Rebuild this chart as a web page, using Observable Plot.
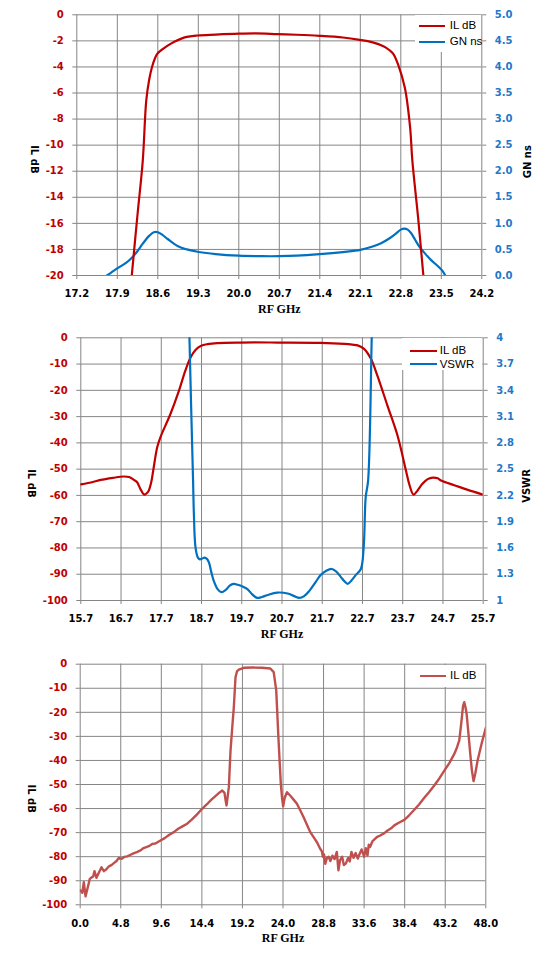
<!DOCTYPE html>
<html><head><meta charset="utf-8">
<script src="https://cdn.jsdelivr.net/npm/d3@7"></script>
<script src="https://cdn.jsdelivr.net/npm/@observablehq/plot@0.6"></script>
<style>
body{margin:0;background:#fff;}
#wrap{position:relative;width:554px;height:967px;background:#fff;overflow:hidden;}
#wrap svg{position:absolute;left:0;}
.leg{position:absolute;background:#fff;}
.sw{position:absolute;height:2.4px;}
.lt{position:absolute;font-family:"Liberation Sans",Arial,sans-serif;font-size:11.5px;line-height:14px;color:#000;white-space:nowrap;}
</style></head>
<body><div id="wrap"></div>
<script>
// ---------- Panel 1 : IL dB and GN ns vs RF GHz ----------
const p1Ticks = [17.2,17.9,18.6,19.3,20.0,20.7,21.4,22.1,22.8,23.5,24.2];
const p1ILTicks = [-20,-18,-16,-14,-12,-10,-8,-6,-4,-2,0];
const p1GNTicks = [0,0.5,1.0,1.5,2.0,2.5,3.0,3.5,4.0,4.5,5.0];
const p1ILFreq = [18.10,18.15,18.25,18.34,18.40,18.45,18.50,18.55,18.59,18.65,18.70,18.82,19.04,19.29,19.6,20.0,20.3,20.66,21.0,21.39,21.8,22.09,22.3,22.5,22.6,22.67,22.76,22.87,22.96,23.0,23.10,23.19,23.24];
const p1IL = [-22.5,-20,-15.3,-11.2,-6.6,-5.0,-4.0,-3.35,-3.0,-2.75,-2.58,-2.23,-1.77,-1.59,-1.52,-1.45,-1.43,-1.48,-1.53,-1.61,-1.74,-1.92,-2.1,-2.41,-2.7,-3.0,-3.9,-5.6,-8.6,-11.2,-15.6,-20,-22.5];
const p1GNFreq = [17.72,17.80,17.92,18.05,18.16,18.25,18.34,18.45,18.53,18.60,18.68,18.77,18.95,19.10,19.31,19.6,20.0,20.4,20.7,21.0,21.4,21.8,22.1,22.3,22.46,22.6,22.71,22.80,22.86,22.92,22.98,23.05,23.13,23.22,23.32,23.40,23.47,23.52,23.57];
const p1GN = [0,0.06,0.15,0.24,0.35,0.47,0.61,0.76,0.83,0.83,0.78,0.70,0.56,0.50,0.45,0.41,0.38,0.37,0.37,0.38,0.41,0.45,0.49,0.55,0.62,0.71,0.80,0.88,0.90,0.88,0.81,0.68,0.54,0.42,0.30,0.22,0.15,0.09,0];

// ---------- Panel 2 : IL dB and VSWR vs RF GHz ----------
const p2Ticks = [15.7,16.7,17.7,18.7,19.7,20.7,21.7,22.7,23.7,24.7,25.7];
const p2ILTicks = [-100,-90,-80,-70,-60,-50,-40,-30,-20,-10,0];
const p2VSWRTicks = [1,1.3,1.6,1.9,2.2,2.5,2.8,3.1,3.4,3.7,4];
const p2ILFreq = [15.7,16.0,16.19,16.5,16.77,16.9,17.02,17.1,17.18,17.28,17.35,17.39,17.45,17.50,17.60,17.68,17.93,18.14,18.30,18.43,18.55,18.68,18.85,19.09,19.67,20.59,21.66,22.25,22.45,22.58,22.74,22.91,23.07,23.32,23.57,23.78,23.86,23.97,24.07,24.19,24.32,24.45,24.57,24.65,25.0,25.3,25.7];
const p2IL = [-55.8,-54.9,-54.1,-53.3,-52.8,-53.0,-54.1,-55.0,-57.5,-59.7,-59.0,-58.1,-55.0,-50.5,-41.6,-37.8,-28.9,-20.1,-12.4,-7.4,-4.6,-3.1,-2.4,-2.0,-1.8,-1.8,-1.9,-2.3,-2.6,-2.9,-4.2,-8.0,-14.4,-25.8,-37.2,-50.5,-55.6,-59.7,-58.1,-55.6,-53.8,-53.2,-53.5,-54.3,-56.2,-57.8,-59.7];
const p2VSWRFreq = [18.38,18.40,18.44,18.49,18.51,18.55,18.61,18.66,18.72,18.77,18.82,18.88,18.94,19.00,19.10,19.19,19.30,19.40,19.50,19.60,19.72,19.84,19.96,20.08,20.20,20.33,20.58,20.84,21.0,21.13,21.25,21.38,21.52,21.66,21.80,21.94,22.05,22.16,22.25,22.33,22.43,22.53,22.66,22.73,22.78,22.84,22.93,22.95];
const p2VSWR = [4.3,4.0,3.25,2.37,1.99,1.61,1.49,1.47,1.48,1.49,1.48,1.44,1.33,1.23,1.13,1.095,1.12,1.17,1.19,1.18,1.16,1.13,1.07,1.03,1.04,1.06,1.09,1.08,1.05,1.03,1.05,1.11,1.20,1.29,1.34,1.36,1.33,1.27,1.22,1.19,1.23,1.29,1.36,1.61,2.18,2.37,4.0,4.3];

// ---------- Panel 3 : wideband IL dB vs RF GHz ----------
const p3Ticks = [0.0,4.8,9.6,14.4,19.2,24.0,28.8,33.6,38.4,43.2,48.0];
const p3ILTicks = [-100,-90,-80,-70,-60,-50,-40,-30,-20,-10,0];
const p3Freq = [0.04,0.25,0.43,0.63,0.9,1.14,1.35,1.54,1.69,1.93,2.2,2.52,2.8,3.1,3.4,3.7,3.98,4.3,4.57,4.9,5.2,5.56,5.9,6.3,6.7,7.14,7.5,7.9,8.2,8.52,8.9,9.2,9.5,10.0,10.5,11.08,11.6,12.1,12.66,13.2,13.8,14.43,15.0,15.5,16.0,16.5,16.81,17.08,17.2,17.32,17.45,17.59,17.79,18.0,18.18,18.38,18.55,18.77,19.36,20.5,21.5,22.5,22.9,23.2,23.45,23.74,23.9,24.02,24.2,24.47,24.9,25.3,25.65,26.05,26.44,26.85,27.23,27.6,28.02,28.4,28.6,28.72,28.85,29.0,29.2,29.4,29.6,29.85,30.1,30.37,30.56,30.75,31.0,31.2,31.45,31.7,31.9,32.1,32.35,32.6,32.85,33.05,33.3,33.6,33.8,34.0,34.15,34.3,34.6,35.1,35.5,35.99,36.38,36.8,37.17,37.7,38.36,38.9,39.54,40.1,40.72,41.3,41.9,42.5,43.09,43.7,44.27,44.6,44.86,45.05,45.17,45.3,45.45,45.6,45.73,45.95,46.16,46.35,46.55,46.75,47.03,47.5,48.0];
const p3IL = [-94.1,-95.0,-90.6,-96.5,-92.7,-89.2,-88.6,-88.2,-86.0,-88.8,-86.7,-84.4,-86.0,-85.2,-84.0,-83.5,-82.7,-81.8,-80.5,-80.9,-80.1,-79.9,-79.3,-78.6,-78.1,-77.4,-76.4,-75.9,-75.5,-74.7,-74.5,-73.9,-73.3,-72.3,-71.0,-69.8,-68.4,-67.4,-66.3,-64.6,-62.5,-60.1,-58.2,-56.4,-54.8,-53.3,-52.5,-53.5,-56.5,-58.7,-55.0,-51.1,-35.9,-26.0,-17.9,-5.4,-3.0,-2.3,-1.5,-1.4,-1.5,-1.8,-3.3,-10.9,-30.0,-49.7,-56.0,-59.1,-55.5,-53.2,-54.8,-56.5,-58.0,-60.8,-63.6,-66.8,-69.8,-71.8,-74.0,-76.7,-77.8,-80.0,-79.0,-83.0,-80.5,-80.0,-81.8,-79.6,-81.0,-78.0,-85.7,-81.5,-80.0,-83.5,-82.8,-80.5,-82.0,-78.0,-80.5,-78.5,-80.8,-79.0,-77.0,-80.0,-76.5,-79.5,-75.0,-76.0,-73.5,-71.9,-71.2,-70.2,-69.1,-68.2,-67.0,-65.9,-64.7,-62.9,-60.5,-58.3,-55.5,-53.1,-50.4,-47.5,-44.2,-41.0,-37.3,-34.5,-31.7,-26.0,-22.0,-17.5,-15.8,-18.0,-20.6,-29.0,-37.3,-44.0,-48.6,-45.5,-40.0,-33.1,-26.4];

// ---------- styling ----------
const RED = "#c00000", BLUE = "#0070c0", BLUE_T = "#1f78c8", GRID = "#858585", RED3 = "#c0504d";
const baseStyle = {fontFamily: "'DejaVu Sans', Verdana, sans-serif", fontSize: "10px", fontWeight: "bold", background: "transparent", overflow: "visible"};
const fmt1 = d => d.toFixed(1);

function frame(xTicks, yTicks) {
  return [
    Plot.gridX(xTicks, {stroke: GRID, strokeOpacity: 1, strokeWidth: 1}),
    Plot.gridY(yTicks, {stroke: GRID, strokeOpacity: 1, strokeWidth: 1}),
    Plot.axisX(xTicks, {tickSize: 4, tickPadding: 10.6, stroke: GRID, fill: "#000", tickFormat: fmt1, label: null}),
    Plot.axisY(yTicks, {tickSize: 4, tickPadding: 9, stroke: GRID, fill: RED, tickFormat: d => String(d), label: null}),
    Plot.text(["RF GHz"], {frameAnchor: "bottom", dy: 37.5, fontFamily: "'Liberation Serif', 'Times New Roman', serif", fontSize: 12, fontWeight: "bold", fill: "#000"})
  ];
}

const wrap = document.getElementById("wrap");

// Panel 1
const toIL1 = g => -20 + g * 4;
const plot1 = Plot.plot({
  width: 554, height: 320,
  marginLeft: 76.3, marginRight: 72.7, marginTop: 14.3, marginBottom: 45,
  style: baseStyle,
  x: {domain: [17.2, 24.2]},
  y: {domain: [-20, 0]},
  marks: [
    ...frame(p1Ticks, p1ILTicks),
    Plot.axisY(p1GNTicks.map(toIL1), {anchor: "right", tickSize: 4, tickPadding: 9, stroke: GRID, fill: BLUE_T, tickFormat: v => ((v + 20) / 4).toFixed(1), label: null}),
    Plot.text(["IL dB"], {frameAnchor: "left", rotate: 90, dx: -43, fill: "#000"}),
    Plot.text(["GN ns"], {frameAnchor: "right", rotate: -90, dx: 45.7, fill: "#000"}),
    Plot.line(p1GNFreq, {x: p1GNFreq, y: p1GN.map(toIL1), stroke: BLUE, strokeWidth: 2.2, curve: "catmull-rom", clip: true}),
    Plot.line(p1ILFreq, {x: p1ILFreq, y: p1IL, stroke: RED, strokeWidth: 2.2, curve: "catmull-rom", clip: true})
  ]
});
plot1.style.top = "0px";
wrap.appendChild(plot1);

// Panel 2
const toIL2 = v => (v - 1) / 3 * 100 - 100;
const plot2 = Plot.plot({
  width: 554, height: 330,
  marginLeft: 80.3, marginRight: 71.3, marginTop: 17.3, marginBottom: 50,
  style: baseStyle,
  x: {domain: [15.7, 25.7]},
  y: {domain: [-100, 0]},
  marks: [
    ...frame(p2Ticks, p2ILTicks),
    Plot.axisY(p2VSWRTicks.map(toIL2), {anchor: "right", tickSize: 4, tickPadding: 9, stroke: GRID, fill: BLUE_T, tickFormat: v => String(+(((v + 100) / 100) * 3 + 1).toFixed(1)), label: null}),
    Plot.text(["IL dB"], {frameAnchor: "left", rotate: 90, dx: -50, fill: "#000"}),
    Plot.text(["VSWR"], {frameAnchor: "right", rotate: -90, dx: 43.3, fill: "#000"}),
    Plot.line(p2ILFreq, {x: p2ILFreq, y: p2IL, stroke: RED, strokeWidth: 2.2, curve: "catmull-rom", clip: true}),
    Plot.line(p2VSWRFreq, {x: p2VSWRFreq, y: p2VSWR.map(toIL2), stroke: BLUE, strokeWidth: 2.2, curve: "catmull-rom", clip: true})
  ]
});
plot2.style.top = "320px";
wrap.appendChild(plot2);

// Panel 3
const plot3 = Plot.plot({
  width: 554, height: 317,
  marginLeft: 79.7, marginRight: 68.7, marginTop: 13.7, marginBottom: 62.7,
  style: baseStyle,
  x: {domain: [0, 48]},
  y: {domain: [-100, 0]},
  marks: [
    ...frame(p3Ticks, p3ILTicks),
    Plot.text(["IL dB"], {frameAnchor: "left", rotate: 90, dx: -49, fill: "#000"}),
    Plot.line(p3Freq, {x: p3Freq, y: p3IL, stroke: RED3, strokeWidth: 2.4, strokeLinejoin: "round", clip: true})
  ]
});
plot3.style.top = "650px";
wrap.appendChild(plot3);

// Legends (HTML overlays)
function legend(box, rows) {
  const b = document.createElement("div");
  b.className = "leg";
  Object.assign(b.style, {left: box[0] + "px", top: box[1] + "px", width: box[2] + "px", height: box[3] + "px"});
  wrap.appendChild(b);
  for (const r of rows) {
    const s = document.createElement("div");
    s.className = "sw";
    Object.assign(s.style, {left: r.x0 + "px", top: (r.y - 1.2) + "px", width: (r.x1 - r.x0) + "px", background: r.color});
    wrap.appendChild(s);
    const t = document.createElement("div");
    t.className = "lt";
    t.textContent = r.label;
    Object.assign(t.style, {left: r.tx + "px", top: (r.y - 7.5) + "px"});
    wrap.appendChild(t);
  }
}
legend([415, 15, 65.5, 37], [
  {x0: 419.3, x1: 445.3, y: 25.7, tx: 449.7, label: "IL dB", color: RED},
  {x0: 419.3, x1: 445.3, y: 41.7, tx: 449.7, label: "GN ns", color: BLUE}
]);
legend([402, 338, 80, 32], [
  {x0: 410.3, x1: 437, y: 350.7, tx: 439.7, label: "IL dB", color: RED},
  {x0: 410.3, x1: 437, y: 364.3, tx: 439.7, label: "VSWR", color: BLUE}
]);
legend([410, 664.5, 74.5, 22], [
  {x0: 420, x1: 446, y: 675.7, tx: 450, label: "IL dB", color: RED3}
]);
</script>
</body></html>
